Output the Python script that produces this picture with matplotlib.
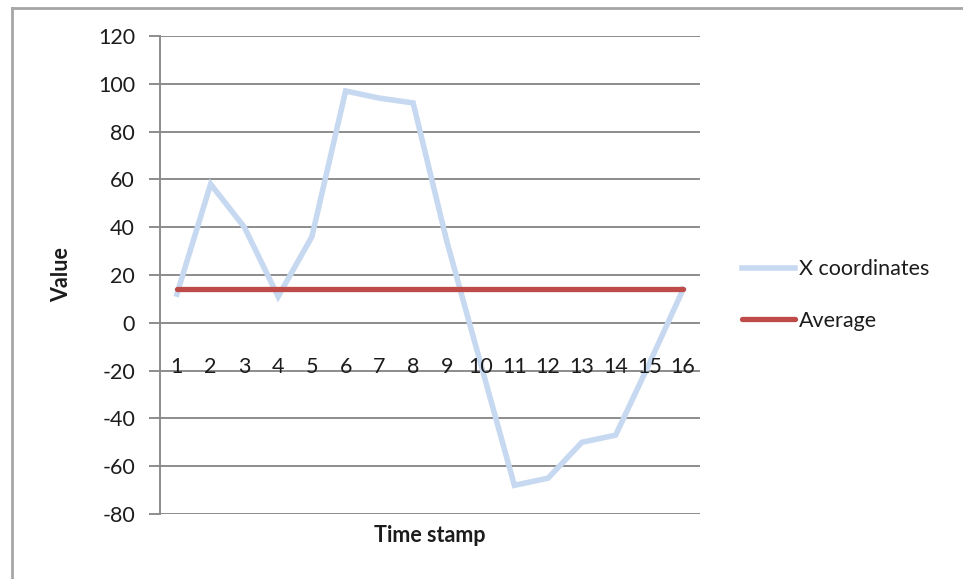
import numpy as np
import matplotlib
matplotlib.use("Agg")
import matplotlib.pyplot as plt
from matplotlib.lines import Line2D

plt.rcParams['font.family'] = ['Lato', 'DejaVu Sans']

# Data
time_stamps = list(range(1, 17))
x_coordinates = [12, 58, 40, 11, 36, 97, 94, 92, 34, -17, -68, -65, -50, -47, -17, 14]
average_value = float(np.mean(x_coordinates))
average = [average_value] * len(time_stamps)
y_ticks = [-80, -60, -40, -20, 0, 20, 40, 60, 80, 100, 120]

W, H = 963, 579
fig = plt.figure(figsize=(W / 100, H / 100), dpi=100)
ax = fig.add_axes([160 / W, 65 / H, 540 / W, 478 / H])

grid_col = '#8c8c8c'
text_col = '#1c1c1c'
fs = 15.5

# Category positions sit at the centre of each slot
xpos = np.arange(len(time_stamps))
ax.set_xlim(-0.5, len(time_stamps) - 0.5)
ax.set_ylim(-80, 120)

for v in y_ticks:
    ax.axhline(v, color=grid_col, lw=1.4, zorder=1)

ax.plot(xpos, x_coordinates, color='#c6d9f1', lw=4.0, solid_joinstyle='miter',
        label='X coordinates', zorder=3)
ax.plot(xpos, average, color='#be4b48', lw=3.8, solid_capstyle='round',
        label='Average', zorder=4)

# Category labels drawn just below the zero line
for xp, lab in zip(xpos, time_stamps):
    ax.text(xp, -18.5, str(lab), ha='center', va='center', fontsize=fs,
            color=text_col, zorder=5)

ax.set_xticks([])
ax.set_yticks(y_ticks)
ax.set_yticklabels([str(v) for v in y_ticks], fontsize=fs, color=text_col)
ax.tick_params(axis='y', length=8, width=1.4, color=grid_col, pad=10)

for side in ('top', 'right', 'bottom'):
    ax.spines[side].set_visible(False)
ax.spines['left'].set_color(grid_col)
ax.spines['left'].set_linewidth(1.4)

ax.set_ylabel('Value', fontsize=fs, fontweight='bold', color=text_col)
ax.yaxis.set_label_coords(-(160 - 72) / 540, 0.5)
ax.set_xlabel('Time stamp', fontsize=fs, fontweight='bold', color=text_col)
ax.xaxis.set_label_coords(0.5, -(525 - 514) / 478)

leg = ax.legend(loc='center left', bbox_to_anchor=(723 / W, 1 - 295 / H),
                bbox_transform=fig.transFigure, frameon=False, fontsize=fs,
                handlelength=2.45, handletextpad=0.2, labelspacing=1.45)
for t in leg.get_texts():
    t.set_color(text_col)

# Outer chart frame
frame_col = '#a6a6a6'
fig.add_artist(Line2D([11.5 / W, 11.5 / W], [0, 1 - 7.5 / H], transform=fig.transFigure,
                      color=frame_col, lw=2))
fig.add_artist(Line2D([11.5 / W, 1], [1 - 7.5 / H, 1 - 7.5 / H], transform=fig.transFigure,
                      color=frame_col, lw=2))

fig.savefig('out.png', dpi=100)
